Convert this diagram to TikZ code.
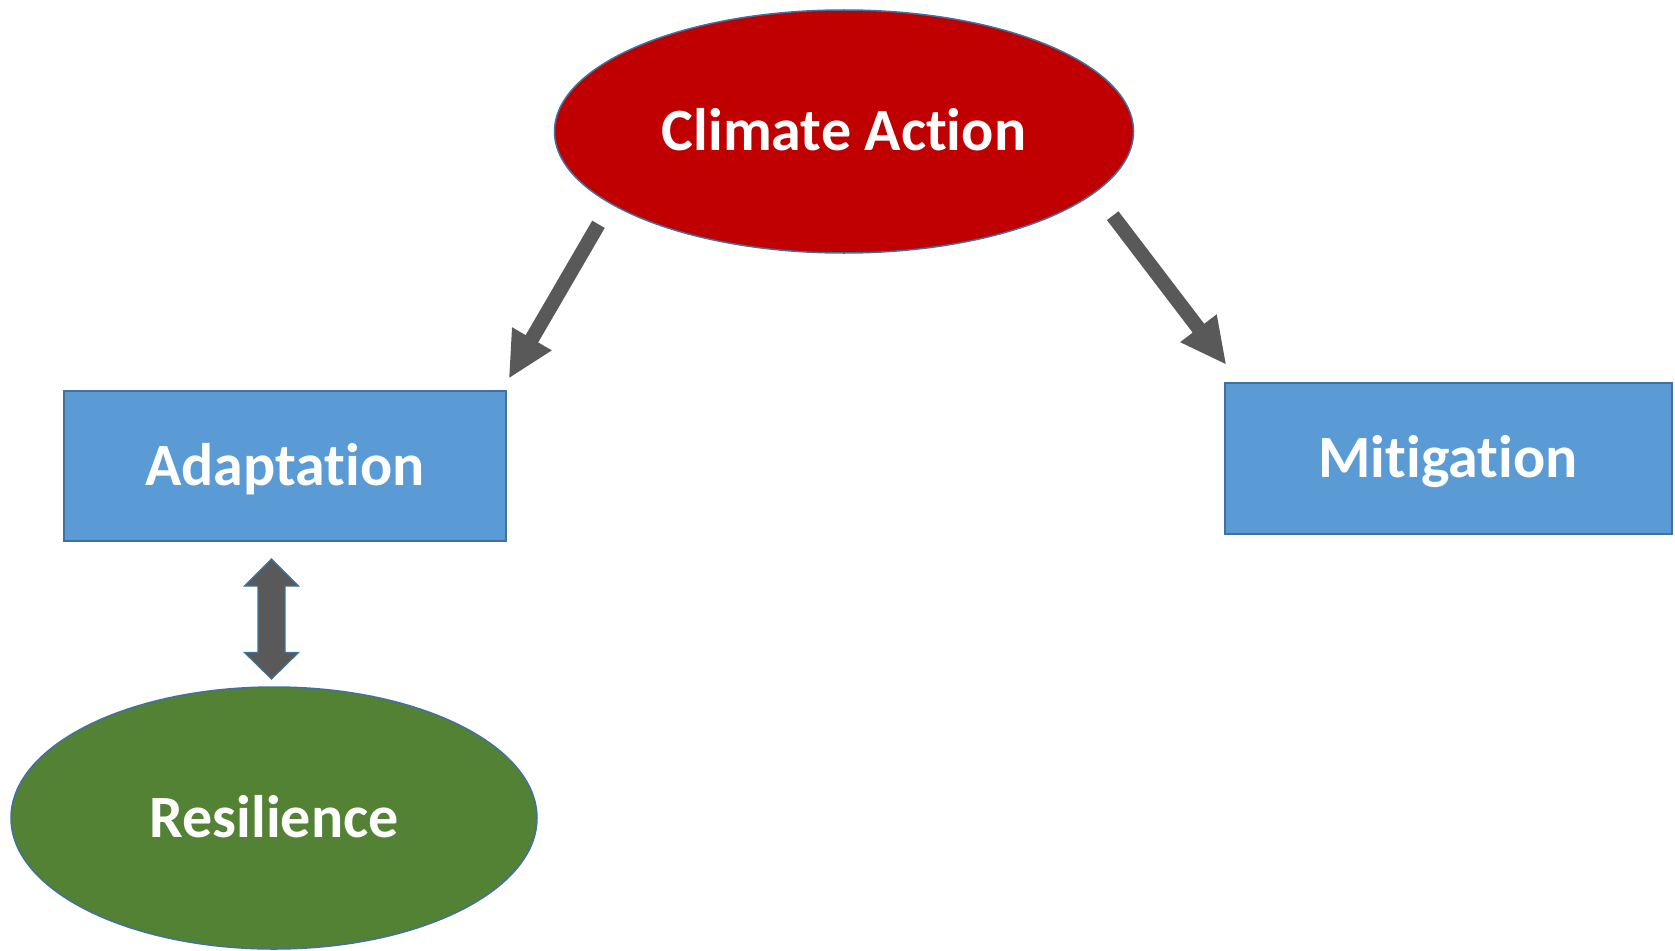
\documentclass[tikz,border=0pt]{standalone}
\usepackage{fontspec}
\setmainfont{Carlito}[Ligatures={NoCommon,NoDiscretionary}]
\usetikzlibrary{shapes.geometric,calc}
\definecolor{cared}{HTML}{C00000}
\definecolor{boxblue}{HTML}{5B9BD5}
\definecolor{bordblue}{HTML}{41719C}
\definecolor{resgreen}{HTML}{548235}
\definecolor{arrowgray}{HTML}{595959}
\newcommand\blockarr[2]{%
  \coordinate (#1-base) at ($(#2)!45pt!(#1)$);
  \fill[arrowgray]
    ($(#1)!7.25pt!90:(#2)$) -- ($(#1-base)!7.25pt!90:(#2)$) --
    ($(#1-base)!23pt!90:(#2)$) -- (#2) --
    ($(#1-base)!23pt!-90:(#2)$) -- ($(#1-base)!7.25pt!-90:(#2)$) --
    ($(#1)!7.25pt!-90:(#2)$) -- cycle;}
\begin{document}
\begin{tikzpicture}[x=1pt,y=-1pt,
  lbl/.style={text=white,font=\bfseries\fontsize{60}{72}\selectfont,
    text height=38.6pt,text depth=0pt,inner sep=0pt},
  oval/.style={ellipse,draw=bordblue,line width=1.5pt,inner sep=0pt},
  boxnode/.style={rectangle,draw=bordblue,line width=2pt,fill=boxblue,inner sep=0pt}]
\useasboundingbox (0,0) rectangle (1675,950);
\fill[white] (0,0) rectangle (1675,950);

\node[oval,fill=cared,minimum width=579pt,minimum height=243pt,lbl] (ca) at (844,131.5) {Climate Action};
\node[boxnode,minimum width=442pt,minimum height=150pt,lbl] (ad) at (285,466) {Adaptation};
\node[boxnode,minimum width=447pt,minimum height=151pt,lbl] (mi) at (1448,458.5) {Mitigation};
\node[oval,fill=resgreen,minimum width=526pt,minimum height=262pt,lbl] (re) at (274,818) {Resilience};

% arrows from Climate Action
\coordinate (ca-l-tail) at (598.5,224.3);
\coordinate (ad-tip) at (509.3,377.7);
\coordinate (ca-r-tail) at (1112.7,215.7);
\coordinate (mi-tip) at (1225.7,364);
\blockarr{ca-l-tail}{ad-tip}
\blockarr{ca-r-tail}{mi-tip}

% double arrow Adaptation <-> Resilience
\coordinate (da-top) at (271.5,559);
\coordinate (da-bot) at (271.5,679);
\filldraw[fill=arrowgray,draw=bordblue,line width=1.2pt,line join=miter]
  (da-top) -- ($(da-top)+(27,27)$) -- ($(da-top)+(13.5,27)$) --
  ($(da-bot)+(13.5,-26.5)$) -- ($(da-bot)+(27,-26.5)$) -- (da-bot) --
  ($(da-bot)+(-27,-26.5)$) -- ($(da-bot)+(-13.5,-26.5)$) --
  ($(da-top)+(-13.5,27)$) -- ($(da-top)+(-27,27)$) -- cycle;
\end{tikzpicture}
\end{document}
